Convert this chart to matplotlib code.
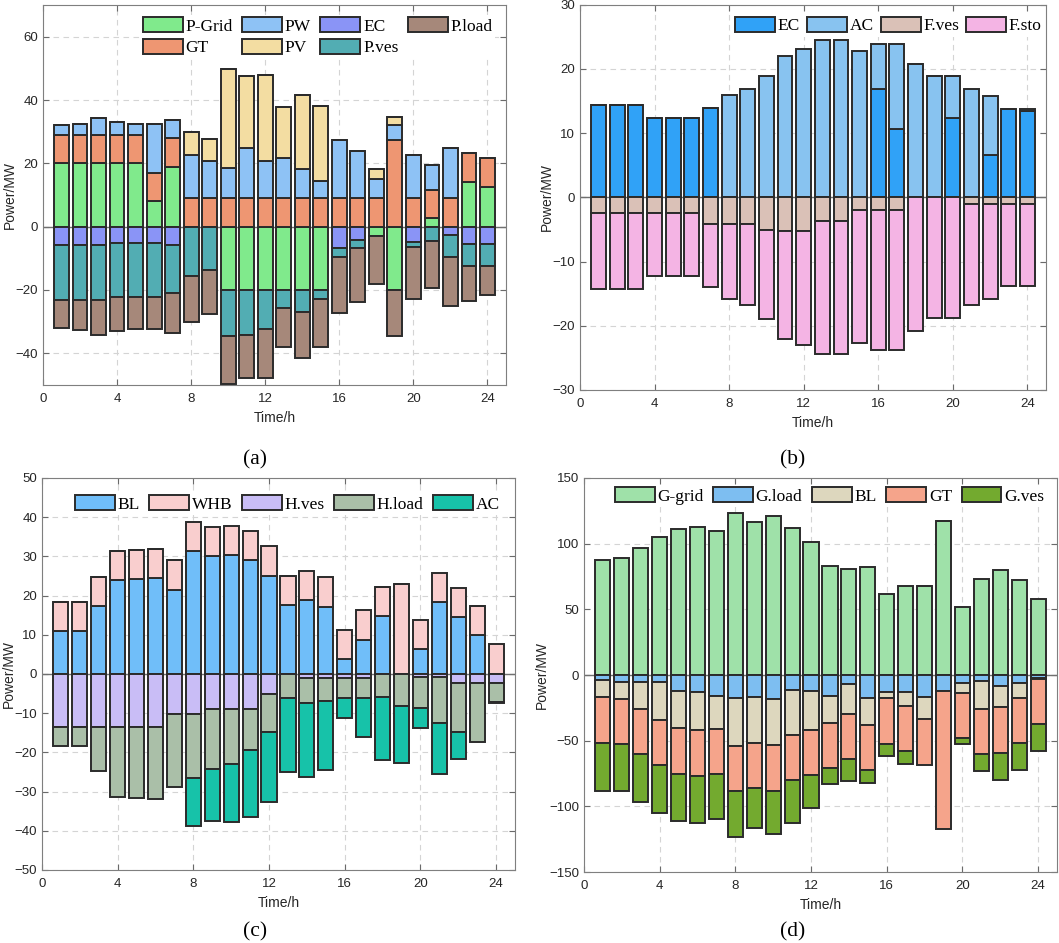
import numpy as np
import matplotlib
matplotlib.use("Agg")
import matplotlib.pyplot as plt

plt.rcParams['font.family'] = ['Liberation Sans', 'DejaVu Sans']

hours = np.arange(1, 25)

# (a) electric balance
p_grid = [20, 20, 20, 20, 20, 8, 18.9, 0, 0, -20, -20, -20, -20, -20, -20, 0, 0, -3, -20, 0, 2.6, 0, 14.2, 12.4]
p_gt = [9, 9, 9, 9, 9, 9, 9, 9, 9, 9, 9, 9, 9, 9, 9, 9, 9, 9, 27.4, 9, 9, 9, 9.2, 9.2]
p_pw = [3, 3.5, 5.3, 4, 3.4, 15.5, 5.7, 13.6, 11.8, 9.6, 16, 11.8, 12.8, 9.3, 5.5, 18.4, 14.8, 5.9, 4.6, 13.6, 7.9, 16, 0, 0]
p_pv = [0, 0, 0, 0, 0, 0, 0, 7.4, 7, 31.1, 22.7, 27, 16.1, 23.2, 23.6, 0, 0, 3.4, 2.5, 0, 0, 0, 0, 0]
p_ec = [-5.8, -5.8, -5.8, -5.05, -5.05, -5.05, -5.8, 0, 0, 0, 0, 0, 0, 0, 0, -6.8, -4.2, 0, 0, -4.7, 0, -2.6, -5.6, -5.6]
p_ves = [-17.4, -17.4, -17.4, -17.25, -17.25, -17.25, -15.25, -15.5, -13.8, -14.5, -14.3, -12.3, -5.6, -6.8, -2.7,
         -2.7, -2.6, 0, 0, -1.8, -4.4, -6.9, -6.7, -6.7]
p_load = [-8.9, -9.4, -11.0, -10.6, -10.1, -10.1, -12.45, -14.5, -13.9, -15.2, -13.5, -15.5, -12.3, -14.8, -15.4,
          -17.9, -17.0, -15.25, -14.5, -16.2, -15.1, -15.4, -11.1, -9.4]
labels_a = ['P-Grid', 'GT', 'PW', 'PV', 'EC', 'P.ves', 'P.load']
colors_a = ['#80EA8C', '#EE9672', '#8EC2F5', '#F3DDA2', '#8A94F6', '#52ADB3', '#A6887A']

# (b) cooling balance
f_ec = [14.3, 14.3, 14.3, 12.3, 12.3, 12.3, 13.9, 0, 0, 0, 0, 0, 0, 0, 0, 16.9, 10.7, 0, 0, 12.3, 0, 6.65, 13.8, 13.4]
f_ac = [0, 0, 0, 0, 0, 0, 0, 15.9, 16.9, 18.9, 22.05, 23.0, 24.4, 24.4, 22.8, 6.9, 13.1, 20.8, 18.8, 6.5, 16.8, 9.15, 0, 0.4]
f_ves = [-2.5, -2.5, -2.5, -2.5, -2.5, -2.5, -4.2, -4.2, -4.2, -5.1, -5.3, -5.3, -3.7, -3.7, -2.0, -2.0, -2.0,
         0, 0, 0, -1.1, -1.1, -1.1, -1.1]
f_sto = [-11.8, -11.8, -11.8, -9.8, -9.8, -9.8, -9.7, -11.7, -12.6, -13.8, -16.7, -17.7, -20.7, -20.7, -20.7,
         -21.7, -21.7, -20.8, -18.8, -18.8, -15.7, -14.7, -12.7, -12.7]
labels_b = ['EC', 'AC', 'F.ves', 'F.sto']
colors_b = ['#30A2F7', '#88C3F0', '#DAC1B7', '#F4B4E4']

# (c) heat balance
h_bl = [10.85, 10.85, 17.4, 24.0, 24.2, 24.5, 21.4, 31.4, 30.0, 30.3, 29.2, 25.1, 17.5, 18.85, 17.2, 3.9, 8.7, 14.7,
        0, 6.3, 18.25, 14.5, 9.9, 0]
h_whb = [7.5, 7.5, 7.4, 7.5, 7.5, 7.5, 7.6, 7.5, 7.4, 7.4, 7.4, 7.5, 7.4, 7.55, 7.5, 7.4, 7.5, 7.4, 22.85, 7.4,
         7.45, 7.5, 7.5, 7.6]
h_ves = [-13.4, -13.4, -13.4, -13.4, -13.4, -13.4, -10.25, -10.25, -8.9, -8.9, -8.9, -5.1, 0, -1.1, -1.1, -1.1,
         -1.1, 0, 0, -0.65, -0.65, -2.2, -2.2, -2.2]
h_load = [-4.9, -4.9, -11.3, -18.0, -18.2, -18.6, -18.65, -16.35, -15.4, -14.1, -10.6, -9.8, -6.0, -6.35, -5.9,
          -5.0, -5.0, -5.9, -8.2, -8.05, -11.9, -12.6, -15.1, -5.0]
h_ac = [0, 0, 0, 0, 0, 0, 0, -12.2, -13.1, -14.7, -17.1, -17.7, -18.9, -18.75, -17.5, -5.2, -10.0, -16.0, -14.6,
        -4.95, -12.95, -7.0, 0, -0.2]
labels_c = ['BL', 'WHB', 'H.ves', 'H.load', 'AC']
colors_c = ['#70BEF9', '#F9CECE', '#C9BDF6', '#AABFA8', '#17C2A9']

# (d) gas balance
g_grid = [87.9, 88.9, 96.5, 104.7, 111.1, 112.7, 109.6, 123.1, 116.2, 121.1, 112.1, 101.2, 83.0, 80.9, 82.0, 61.8,
          67.4, 67.6, 117.0, 51.8, 72.8, 79.7, 72.2, 57.7]
g_load = [-4.0, -5.0, -5.2, -5.5, -11.9, -13.2, -16.3, -17.5, -16.5, -18.0, -11.1, -12.1, -15.7, -7.0, -17.8, -12.9,
          -13.2, -16.5, -12.4, -5.75, -4.5, -8.1, -5.75, -2.2]
g_bl = [-13.0, -13.0, -20.8, -28.6, -28.6, -28.9, -24.5, -36.8, -35.0, -35.6, -34.5, -29.7, -20.7, -22.8, -20.2,
        -4.9, -10.2, -17.1, 0, -7.95, -21.2, -16.6, -11.75, -1.0]
g_gt = [-35.0, -34.6, -34.5, -34.6, -34.6, -34.5, -34.8, -34.3, -34.6, -34.5, -34.6, -34.5, -34.3, -34.5, -34.5,
        -35.0, -34.5, -34.6, -104.9, -34.5, -34.5, -35.0, -34.5, -34.3]
g_ves = [-36.1, -36.0, -36.3, -36.3, -36.3, -36.1, -34.3, -34.5, -30.1, -33.0, -32.2, -24.9, -12.3, -16.7, -9.5,
         -8.9, -9.7, 0, 0, -4.1, -12.8, -20.0, -20.5, -20.2]
labels_d = ['G-grid', 'G.load', 'BL', 'GT', 'G.ves']
colors_d = ['#9FE1A9', '#7DBEF1', '#DDD7BE', '#F5A48B', '#73AA2F']

W, H = 1059, 943
fig = plt.figure(figsize=(W / 100, H / 100), dpi=100)


def make_axes(l, r, t, b):
    ax = fig.add_axes([l / W, 1 - b / H, (r - l) / W, (b - t) / H])
    ax.box_px = (l, r, t, b)
    return ax


def stacked(ax, series, labels, colors):
    pos = np.zeros(len(hours))
    neg = np.zeros(len(hours))
    for vals, lab, c in zip(series, labels, colors):
        v = np.asarray(vals, dtype=float)
        bottom = np.where(v >= 0, pos, neg)
        ax.bar(hours, v, 0.8, bottom=bottom, color=c, edgecolor='#2b2b2b', linewidth=1.4, label=lab, zorder=3)
        pos += np.clip(v, 0, None)
        neg += np.clip(v, None, 0)


def style(ax, ylim, yticks, ncol, ylab_x, leg_dx, leg_dy, colsp=0.55):
    l, r, t, b = ax.box_px
    w, h = r - l, b - t
    ax.set_xlim(0, 25)
    ax.set_ylim(*ylim)
    ax.set_xticks(range(0, 25, 4))
    ax.set_yticks(yticks)
    ax.axhline(0, color='#707070', lw=1.0, zorder=2)
    ax.grid(True, color='#d4d4d4', ls=(0, (5, 4)), lw=0.8)
    ax.set_axisbelow(True)
    for s in ax.spines.values():
        s.set_color('#7f7f7f')
        s.set_linewidth(0.8)
    ax.tick_params(direction='in', length=4, top=True, right=True, color='#6a6a6a',
                   labelsize=9.5, labelcolor='#262626')
    ax.tick_params(axis='x', pad=6)
    ax.tick_params(axis='y', pad=3.5)
    ax.set_ylabel('Power/MW', fontsize=10, color='#262626')
    ax.yaxis.set_label_coords((ylab_x + 9 - l) / w, 0.5)
    ax.set_xlabel('Time/h', fontsize=10, color='#262626', labelpad=4)
    leg = ax.legend(ncol=ncol, loc='upper right', bbox_to_anchor=(1 - leg_dx / w, 1 - leg_dy / h),
                    prop={'family': 'Liberation Serif', 'size': 12.5},
                    frameon=True, fancybox=False, edgecolor='none', facecolor='white', framealpha=1,
                    handlelength=2.3, handleheight=0.95, handletextpad=0.15, columnspacing=colsp,
                    labelspacing=0.25, borderpad=0.15, borderaxespad=0)
    leg.set_zorder(5)


ax_a = make_axes(43, 506, 5, 385)
stacked(ax_a, [p_grid, p_gt, p_pw, p_pv, p_ec, p_ves, p_load], labels_a, colors_a)
style(ax_a, (-50, 70), range(-40, 61, 20), 4, 8, 10.8, 9.5)

ax_b = make_axes(580, 1046, 4.5, 390)
stacked(ax_b, [f_ec, f_ac, f_ves, f_sto], labels_b, colors_b)
style(ax_b, (-30, 30), range(-30, 31, 10), 4, 545, 2, 9.5, colsp=0.4)

ax_c = make_axes(42, 515, 478, 870)
stacked(ax_c, [h_bl, h_whb, h_ves, h_load, h_ac], labels_c, colors_c)
style(ax_c, (-50, 50), range(-50, 51, 10), 5, 7, 12.8, 14.5)

ax_d = make_axes(584, 1057, 478, 872)
stacked(ax_d, [g_grid, g_load, g_bl, g_gt, g_ves], labels_d, colors_d)
style(ax_d, (-150, 150), range(-150, 151, 50), 5, 540, 10.3, 6.5)

for txt, x, y in [('(a)', 255, 460), ('(b)', 793, 460), ('(c)', 255, 932), ('(d)', 793, 932)]:
    fig.text(x / W, 1 - y / H, txt, ha='center', va='center', fontsize=15.5, family='Liberation Serif')

fig.savefig('out.png', dpi=100)
